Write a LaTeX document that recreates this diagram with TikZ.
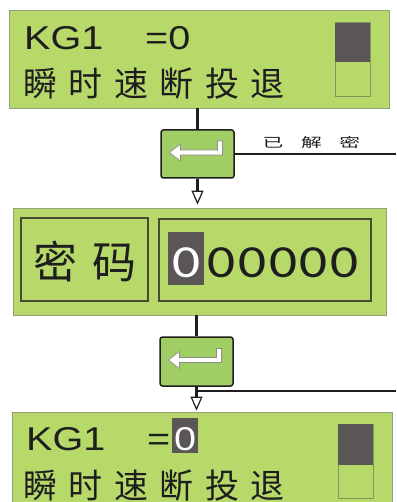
\documentclass[tikz,border=0pt]{standalone}
\usepackage{fontspec}
\usepackage{graphicx}
\setmainfont{Liberation Sans}
\newfontfamily\cjk{Noto Sans CJK SC}
\newfontfamily\kgfont[FakeStretch=1.2]{Liberation Sans}
\newfontfamily\digitfont[FakeStretch=1.2]{Carlito}
\usetikzlibrary{arrows.meta,calc}
\definecolor{panelgreen}{RGB}{183,217,106}
\definecolor{panelborder}{RGB}{150,160,120}
\definecolor{keygreen}{RGB}{160,206,100}
\definecolor{darkcell}{RGB}{90,86,86}
\definecolor{cellborder}{RGB}{130,150,90}
\definecolor{innerborder}{RGB}{70,75,50}
\definecolor{inkblack}{RGB}{30,30,30}
\newcommand{\entersym}[1]{%
  \draw[fill=white, draw=black!45, line width=0.6pt]
    ($(#1)+(-28,-1.5)$) -- ($(#1)+(-17,-10)$) -- ($(#1)+(-17,-4)$) --
    ($(#1)+(20,-4)$) -- ($(#1)+(20,-13)$) -- ($(#1)+(25,-13)$) --
    ($(#1)+(25,1)$) -- ($(#1)+(-17,1)$) -- ($(#1)+(-17,7)$) -- cycle;}
\begin{document}
\begin{tikzpicture}[x=1pt,y=-1pt,
  panel/.style={draw=panelborder, fill=panelgreen, line width=0.8pt, inner sep=0pt},
  keybox/.style={draw=inkblack, fill=keygreen, line width=1.5pt, rounded corners=2.5pt,
    minimum width=73pt, minimum height=48pt, inner sep=0pt},
  flow/.style={line width=2.4pt, draw=inkblack},
  branch/.style={line width=1.3pt, draw=inkblack},
  tip/.style={-{Triangle[width=12pt,length=14pt,fill=white,line width=1.2pt]}},
  kg/.style={anchor=base west, inner sep=0pt, text=inkblack, font=\kgfont\fontsize{33}{33}\selectfont},
  cjkline/.style={anchor=west, inner sep=0pt, text=inkblack, font=\cjk\fontsize{34}{34}\selectfont},
  digit/.style={anchor=base, inner sep=0pt, text=inkblack, font=\digitfont\fontsize{46}{46}\selectfont},
  innerbox/.style={draw=innerborder, line width=1.3pt},
  cellbox/.style={draw=cellborder, fill=panelgreen, line width=1pt},
  darkbox/.style={fill=darkcell}
]
\clip (0,0) rectangle (396,502);
\fill[white] (0,0) rectangle (396,502);

% panels
\node[panel, minimum width=380pt, minimum height=98pt] (p1) at (199,59) {};
\node[panel, minimum width=373pt, minimum height=107pt] (p2) at (199.5,261.5) {};
\node[panel, minimum width=380pt, minimum height=94pt] (p3) at (202,459) {};

% top panel content
\node[kg] (t1a) at (24,50) {KG1};
\node[kg] (t1b) at (145,50) {=0};
\node[cjkline] (t1c) at (23,84) {瞬\hspace{11.5pt}时\hspace{11.5pt}速\hspace{11.5pt}断\hspace{11.5pt}投\hspace{11.5pt}退};
\draw[cellbox] (335,23) rectangle (370,97);
\fill[darkbox] (335,23) rectangle (370,62);

% middle panel content
\draw[innerbox] (21,218) rectangle (148,301);
\draw[innerbox] (159,219) rectangle (371,301);
\node[inner sep=0pt, text=inkblack, font=\cjk\fontsize{44}{44}\selectfont] (mm) at (85,262) {密\hspace{16pt}码};
\fill[darkbox] (168,232) rectangle (204,285);
\node[digit, text=white] (z0) at (186.5,277) {0};
\foreach \k in {0,...,4} {
  \node[digit] (z\k b) at (221.5+30.75*\k,277) {0};
}

% bottom panel content
\node[kg] (t3a) at (26,450) {KG1};
\node[kg] (t3b) at (147,450) {=};
\fill[darkbox] (172,418) rectangle (198,453);
\node[kg, text=white] (t3c) at (174,450) {0};
\node[cjkline] (t3d) at (23,486) {瞬\hspace{11.5pt}时\hspace{11.5pt}速\hspace{11.5pt}断\hspace{11.5pt}投\hspace{11.5pt}退};
\draw[cellbox] (338,424) rectangle (373,498);
\fill[darkbox] (338,424) rectangle (373,465);

% enter keys
\node[keybox] (e1) at (197.5,154) {};
\node[keybox, minimum height=49pt] (e2) at (196.5,361.5) {};
\entersym{e1.center}
\entersym{e2.center}

% connectors
\coordinate (r1) at (396,154);
\coordinate (b2) at (196.5,391);
\coordinate (r2) at (396,391);
\draw[flow] (p1.south -| e1.north) -- (e1.north);
\draw[flow, tip, shorten >=3pt] (e1.south) -- (p2.north -| e1.south);
\draw[branch] (e1.east) -- (r1);
\node[inner sep=0pt, text=inkblack, font=\cjk\fontsize{13}{13}\selectfont] (lbl) at (311.5,142.5)
  {\scalebox{1.6}[1]{已\hspace{11pt}解\hspace{11pt}密}};
\draw[flow] (p2.south -| e2.north) -- (e2.north);
\draw[flow, tip, shorten >=1pt] (e2.south) -- (p3.north -| e2.south);
\draw[branch] (b2) -- (r2);
\end{tikzpicture}
\end{document}
